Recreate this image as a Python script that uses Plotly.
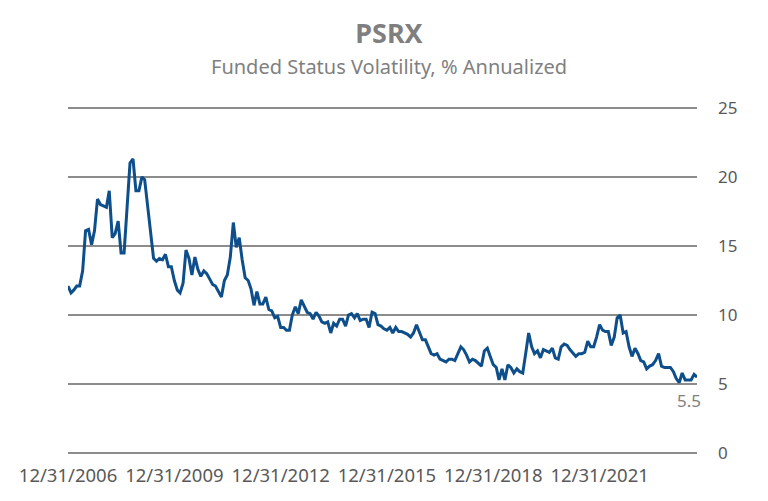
import pandas as pd
import plotly.graph_objects as go

title_text = "PSRX"
subtitle_text = "Funded Status Volatility, % Annualized"

start_date = "2006-12-31"
vol_a = [12.1, 11.6, 11.8, 12.1, 12.1, 13.2, 16.1, 16.2, 15.1, 16.1, 18.4, 18.0, 17.9, 17.8, 19.0, 15.6, 15.9, 16.8,
         14.5, 14.5, 17.8, 21.0, 21.3, 19.0, 19.0, 20.0, 19.8, 17.8, 15.9, 14.1, 13.9, 14.1, 14.0, 14.4, 13.5, 13.5]
vol_b = [12.5, 11.8, 11.6, 12.3, 14.7, 14.1, 12.9, 14.2, 13.3, 12.8, 13.2, 13.0, 12.6, 12.2, 12.1, 11.7, 11.3, 12.5,
         12.9, 14.2, 16.7, 14.9, 15.6, 14.0, 12.7, 12.5, 11.9, 10.7, 11.7, 10.8, 10.8, 11.3, 10.4, 10.3, 9.8, 9.9]
vol_c = [9.1, 9.1, 8.9, 8.9, 10.0, 10.6, 10.1, 11.1, 10.6, 10.2, 10.1, 9.7, 10.2, 9.9, 9.5, 9.4, 9.5, 8.7,
         9.4, 9.2, 9.7, 9.7, 9.2, 10.0, 10.1, 9.8, 10.1, 9.6, 9.7, 9.7, 9.1, 10.2, 10.1, 9.3, 9.2, 9.0]
vol_d = [8.9, 9.1, 8.7, 9.1, 8.8, 8.8, 8.7, 8.6, 8.4, 8.7, 9.3, 8.8, 8.2, 8.2, 7.7, 7.2, 7.1, 7.2,
         6.8, 6.7, 6.6, 6.8, 6.8, 6.7, 7.2, 7.7, 7.5, 7.1, 6.6, 6.8, 6.7, 6.5, 6.3, 7.4, 7.6, 7.0]
vol_e = [6.4, 6.2, 5.3, 6.1, 5.3, 6.4, 6.2, 5.8, 6.1, 5.9, 5.8, 7.2, 8.7, 7.7, 7.2, 7.4, 6.9, 7.5,
         7.4, 7.3, 7.6, 6.9, 6.8, 7.7, 7.9, 7.8, 7.5, 7.2, 7.0, 7.2, 7.2, 7.3, 8.1, 7.7, 7.7]
vol_f = [8.4, 9.3, 8.9, 8.8, 8.8, 7.8, 8.4, 9.8, 10.0, 8.7, 8.8, 7.7, 7.0, 7.6, 7.2, 6.7, 6.6, 6.1,
         6.3, 6.4, 6.7, 7.2, 6.3, 6.2, 6.2, 6.2, 5.9, 5.4, 5.1, 5.8, 5.3, 5.3, 5.3, 5.7, 5.5]

values = vol_a + vol_b + vol_c + vol_d + vol_e + vol_f
dates = pd.date_range(start_date, periods=len(values), freq="ME")

tick_dates = ["2006-12-31", "2009-12-31", "2012-12-31", "2015-12-31", "2018-12-31", "2021-12-31"]
tick_labels = ["12/31/2006", "12/31/2009", "12/31/2012", "12/31/2015", "12/31/2018", "12/31/2021"]
y_ticks = [0, 5, 10, 15, 20, 25]

font_fam = "Noto Sans"
line_color = "#0e4f8b"
grid_color = "#8c8c8c"

# plot area: value 0 at y=452.7 px, value 25 at y=108 px
pad_units = 0.5
y_lo, y_hi = y_ticks[0] - pad_units, y_ticks[-1] + pad_units
px_per_unit = (452.7 - 108) / 25
top_m = 108 - pad_units * px_per_unit
bot_m = 501 - 452.7 - pad_units * px_per_unit
plot_h = 501 - top_m - bot_m

fig = go.Figure()
# baseline grid line at the lowest tick, drawn as an unclipped trace
fig.add_trace(go.Scatter(x=[dates[0], dates[-1]], y=[y_ticks[0], y_ticks[0]], mode="lines",
                         line=dict(color=grid_color, width=2), cliponaxis=False, hoverinfo="skip"))
fig.add_trace(go.Scatter(x=dates, y=values, mode="lines",
                         line=dict(color=line_color, width=3), hoverinfo="x+y"))

fig.add_annotation(x=dates[-1], y=values[-1], text=f"{values[-1]:.1f}", showarrow=False,
                   xanchor="center", yanchor="middle", xshift=-8, yshift=-23,
                   font=dict(family=font_fam, size=17, color="#7f7f7f"))

fig.add_annotation(x=(389 - 68) / 629, y=(501 - bot_m - 67) / plot_h, xref="paper", yref="paper",
                   text=subtitle_text, showarrow=False, xanchor="center", yanchor="middle",
                   font=dict(family=font_fam, size=20, color="#7f7f7f"))

fig.update_layout(
    width=768, height=501,
    margin=dict(l=68, r=71, t=top_m, b=bot_m, pad=0),
    paper_bgcolor="white", plot_bgcolor="white",
    showlegend=False,
    title=dict(text=f"<b>{title_text}</b>", x=389 / 768, xref="container", xanchor="center",
               y=1 - 34 / 501, yref="container", yanchor="middle",
               font=dict(family=font_fam, size=27, color="#7f7f7f")),
    xaxis=dict(type="date", range=[dates[0], dates[-1]], tickvals=tick_dates, ticktext=tick_labels,
               showgrid=False, zeroline=False, showline=False, ticks="", automargin=False,
               tickfont=dict(family=font_fam, size=18.5, color="#595959"), ticklabelstandoff=2),
    yaxis=dict(range=[y_lo, y_hi], tickvals=y_ticks, side="right", showgrid=True,
               gridcolor=grid_color, gridwidth=2, zeroline=False, showline=False, ticks="",
               automargin=False,
               tickfont=dict(family=font_fam, size=17, color="#595959"), ticklabelstandoff=20),
)

fig.write_html("out.html")
